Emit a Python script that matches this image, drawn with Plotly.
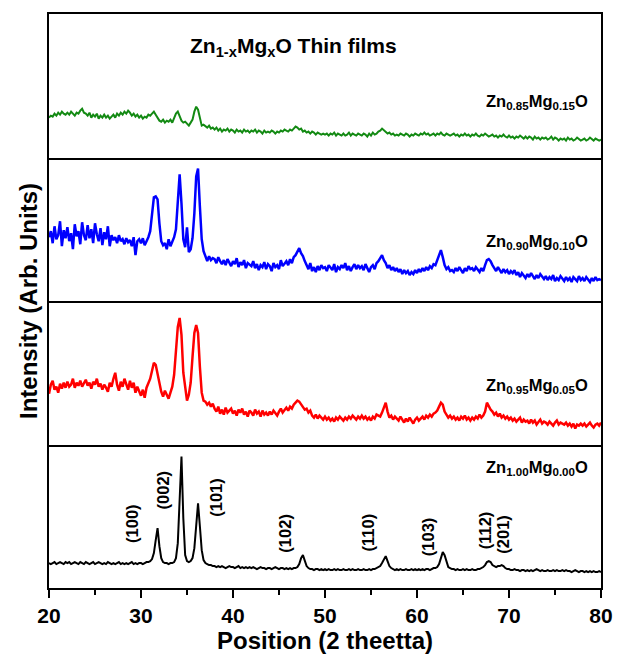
import numpy as np
import plotly.graph_objects as go
from plotly.subplots import make_subplots

# 2-theta grid (degrees), 0.2 step from 20 to 80
two_theta = [round(20 + 0.2 * i, 1) for i in range(301)]

# Intensities (arbitrary units), rows of 2 degrees
zn100_mg000 = [
    25, 24, 25, 26, 24, 25, 26, 25, 24, 26,
    25, 26, 24, 25, 26, 25, 24, 26, 25, 24,
    26, 25, 24, 25, 26, 24, 25, 26, 25, 24,
    25, 24, 26, 25, 24, 25, 24, 25, 26, 24,
    25, 24, 25, 24, 25, 26, 24, 25, 24, 25,
    25, 24, 25, 26, 26, 27, 29, 35, 48, 60,
    42, 30, 26, 25, 25, 24, 25, 25, 26, 30,
    45, 95, 132, 70, 33, 27, 26, 27, 30, 40,
    65, 85, 62, 38, 28, 25, 24, 23, 23, 22,
    22, 21, 22, 21, 22, 21, 20, 21, 22, 21,
    21, 20, 21, 22, 20, 21, 20, 21, 20, 21,
    20, 21, 20, 19, 20, 21, 20, 20, 19, 20,
    20, 19, 20, 21, 20, 19, 20, 20, 19, 20,
    19, 20, 19, 20, 20, 21, 24, 30, 33, 27,
    22, 20, 19, 19, 18, 19, 19, 18, 19, 18,
    19, 18, 19, 18, 18, 19, 18, 19, 18, 18,
    19, 18, 18, 19, 18, 19, 18, 18, 19, 18,
    18, 19, 18, 18, 19, 18, 19, 19, 20, 21,
    22, 25, 29, 32, 27, 22, 20, 19, 18, 19,
    18, 19, 18, 18, 19, 18, 18, 19, 18, 19,
    18, 19, 18, 19, 18, 19, 19, 18, 19, 20,
    20, 21, 24, 30, 36, 33, 26, 21, 20, 19,
    19, 18, 19, 18, 18, 19, 18, 19, 18, 18,
    19, 18, 18, 19, 19, 20, 21, 23, 26, 27,
    26, 23, 22, 21, 22, 22, 23, 22, 20, 19,
    19, 18, 18, 19, 18, 18, 17, 18, 18, 17,
    18, 17, 18, 17, 18, 19, 18, 17, 18, 17,
    17, 18, 17, 17, 18, 17, 18, 17, 17, 18,
    17, 18, 17, 17, 16, 17, 18, 17, 16, 17,
    17, 16, 17, 16, 17, 16, 17, 16, 16, 17,
    16,
]

zn095_mg005 = [
    51, 60, 64, 55, 58, 52, 61, 56, 62, 57,
    63, 58, 60, 66, 57, 62, 59, 64, 58, 61,
    65, 59, 62, 56, 63, 60, 66, 58, 61, 55,
    60, 57, 53, 62, 58, 66, 72, 60, 54, 63,
    58, 66, 61, 55, 64, 57, 62, 52, 58, 54,
    49, 55, 47, 57, 62, 66, 74, 82, 80, 70,
    62, 53, 48, 54, 50, 46, 52, 58, 70, 92,
    118, 127, 110, 72, 56, 44, 50, 62, 88, 112,
    120, 112, 78, 52, 44, 43, 40, 42, 38, 41,
    36, 33, 38, 31, 35, 30, 37, 32, 34, 36,
    31, 34, 29, 35, 32, 36, 30, 33, 28, 34,
    32, 29, 35, 31, 33, 28, 34, 30, 32, 29,
    33, 30, 34, 31, 29, 33, 36, 32, 35, 37,
    34, 38, 36, 40, 42, 44, 43, 40, 38, 35,
    36, 32, 34, 29, 27, 30, 26, 29, 27, 25,
    28, 25, 27, 24, 26, 23, 27, 25, 28, 26,
    24, 27, 25, 28, 26, 29, 27, 25, 28, 26,
    29, 26, 28, 25, 27, 24, 28, 26, 30, 29,
    28, 32, 38, 42, 33, 27, 29, 25, 28, 26,
    24, 28, 25, 22, 26, 23, 27, 24, 21, 25,
    27, 24, 26, 28, 25, 29, 27, 30, 28, 31,
    32, 34, 38, 42, 40, 33, 30, 27, 29, 26,
    28, 25, 27, 24, 28, 26, 29, 25, 27, 24,
    27, 25, 28, 26, 30, 27, 29, 33, 42, 38,
    35, 33, 30, 32, 28, 31, 27, 29, 26, 28,
    25, 27, 24, 26, 23, 25, 27, 22, 25, 23,
    24, 21, 25, 22, 24, 20, 23, 25, 21, 23,
    22, 20, 23, 21, 19, 22, 24, 20, 22, 21,
    20, 22, 19, 21, 18, 21, 16, 20, 19, 21,
    19, 21, 18, 20, 22, 19, 17, 20, 21, 19,
    22,
]

zn090_mg010 = [
    64, 70, 58, 75, 62, 66, 80, 55, 71, 63,
    74, 60, 68, 52, 77, 65, 70, 57, 79, 66,
    61, 76, 63, 72, 58, 78, 67, 60, 73, 56,
    69, 62, 75, 55, 66, 61, 64, 58, 66, 60,
    62, 57, 63, 59, 61, 55, 64, 46, 60, 62,
    58, 63, 56, 60, 64, 70, 88, 104, 105, 102,
    78, 60, 56, 58, 52, 62, 55, 60, 64, 72,
    95, 127, 98, 62, 54, 74, 49, 52, 63, 88,
    125, 133, 95, 62, 50, 44, 40, 45, 41, 43,
    42, 38, 44, 40, 37, 41, 36, 42, 39, 35,
    40, 37, 43, 34, 39, 36, 41, 33, 38, 36,
    35, 40, 33, 37, 31, 36, 34, 39, 32, 37,
    35, 30, 38, 34, 36, 32, 41, 35, 38, 40,
    36, 42, 38, 44, 46, 50, 53, 48, 45, 40,
    36, 32, 38, 30, 34, 29, 35, 31, 36, 33,
    34, 30, 36, 33, 31, 37, 29, 34, 32, 36,
    33, 38, 31, 35, 30, 34, 37, 32, 36, 33,
    35, 31, 37, 33, 29, 34, 36, 32, 38, 40,
    43, 46, 41, 38, 33, 36, 31, 34, 30, 33,
    29, 32, 27, 31, 28, 30, 26, 29, 27, 31,
    28, 32, 29, 33, 30, 34, 31, 35, 33, 37,
    36, 41, 47, 51, 44, 36, 32, 34, 30, 31,
    29, 33, 30, 34, 31, 28, 33, 30, 35, 32,
    33, 30, 34, 31, 29, 33, 30, 36, 41, 42,
    40, 36, 33, 30, 34, 31, 28, 32, 29, 31,
    27, 30, 28, 31, 26, 29, 24, 28, 26, 23,
    27, 24, 28, 25, 22, 26, 23, 27, 24, 22,
    25, 21, 24, 22, 26, 20, 23, 21, 25, 22,
    20, 24, 21, 23, 19, 24, 22, 20, 25, 21,
    23, 20, 24, 21, 19, 23, 20, 24, 21, 22,
    21,
]

zn085_mg015 = [
    40, 42, 41, 44, 42, 45, 43, 46, 44, 43,
    45, 43, 46, 44, 42, 45, 44, 47, 49, 45,
    44, 42, 45, 40, 43, 41, 44, 39, 42, 40,
    43, 40, 42, 39, 41, 43, 40, 44, 42, 45,
    43, 46, 44, 47, 45, 42, 44, 41, 43, 40,
    42, 39, 41, 40, 43, 42, 44, 46, 43, 40,
    37, 36, 38, 35, 37, 36, 38, 35, 39, 44,
    46, 42, 37, 35, 36, 34, 32, 35, 38, 46,
    51, 48, 38, 32, 33, 31, 30, 32, 29, 30,
    28, 30, 27, 29, 26, 28, 27, 29, 26, 28,
    27, 25, 28, 26, 27, 25, 28, 26, 27, 25,
    27, 26, 28, 25, 27, 26, 24, 27, 25, 26,
    25, 27, 26, 24, 26, 25, 27, 26, 28, 27,
    26, 28, 27, 29, 31, 30, 28, 29, 26, 27,
    25, 26, 24, 26, 25, 23, 25, 24, 23, 24,
    23, 24, 22, 24, 23, 25, 22, 24, 23, 22,
    24, 22, 23, 25, 22, 24, 23, 22, 24, 23,
    22, 24, 23, 21, 24, 22, 25, 23, 24, 26,
    27, 29, 27, 25, 24, 25, 23, 24, 22, 23,
    22, 24, 23, 22, 24, 23, 21, 23, 22, 24,
    23, 22, 24, 23, 25, 23, 24, 22, 23, 24,
    22, 24, 23, 25, 23, 22, 24, 23, 22, 23,
    24, 22, 23, 21, 23, 22, 24, 22, 23, 21,
    23, 22, 24, 22, 21, 23, 22, 24, 22, 21,
    22, 23, 21, 22, 20, 22, 21, 23, 21, 20,
    22, 20, 21, 19, 21, 20, 22, 20, 19, 21,
    19, 21, 20, 18, 21, 19, 20, 18, 20, 19,
    20, 18, 19, 21, 18, 20, 19, 17, 19, 18,
    19, 17, 20, 18, 19, 17, 18, 20, 18, 17,
    18, 19, 17, 18, 20, 18, 17, 19, 18, 17,
    18,
]

# Panels top to bottom
series = [
    ("Zn<sub>0.85</sub>Mg<sub>0.15</sub>O", zn085_mg015, "#138a13", 2.0, 56),
    ("Zn<sub>0.90</sub>Mg<sub>0.10</sub>O", zn090_mg010, "#0000ff", 2.5, 59),
    ("Zn<sub>0.95</sub>Mg<sub>0.05</sub>O", zn095_mg005, "#ff0000", 2.5, 59),
    ("Zn<sub>1.00</sub>Mg<sub>0.00</sub>O", zn100_mg000, "#000000", 2.0, 120),
]

# Miller index labels for the ZnO panel
hkl_labels = ["(100)", "(002)", "(101)", "(102)", "(110)", "(103)", "(112)", "(201)"]
hkl_x = [29.1, 32.4, 38.2, 45.7, 54.7, 61.2, 67.4, 69.4]
hkl_y = [65, 98, 91, 55, 56, 51, 58, 54]

x_ticks = [20, 30, 40, 50, 60, 70, 80]

FONT = "Liberation Sans"

fig = make_subplots(rows=4, cols=1, shared_xaxes=True, vertical_spacing=0)

annotations = []
for i, (name, ys, color, lw, label_y) in enumerate(series):
    row = i + 1
    fig.add_trace(
        go.Scatter(x=two_theta, y=ys, mode="lines",
                   line=dict(color=color, width=lw), showlegend=False, name=name),
        row=row, col=1,
    )
    yref = "y" if row == 1 else f"y{row}"
    annotations.append(dict(
        x=0.98, xref="paper", y=label_y, yref=yref, text=f"<b>{name}</b>",
        showarrow=False, xanchor="right", yanchor="middle",
        font=dict(family=FONT, size=16.5, color="black"),
    ))

annotations.append(dict(
    x=46.6, xref="x", y=111, yref="y",
    text="<b>Zn<sub>1-x</sub>Mg<sub>x</sub>O Thin films</b>",
    showarrow=False, xanchor="center", yanchor="middle",
    font=dict(family=FONT, size=21, color="black"),
))

for t, hx, hy in zip(hkl_labels, hkl_x, hkl_y):
    annotations.append(dict(
        x=hx, xref="x4", y=hy, yref="y4", text=f"<b>{t}</b>",
        textangle=-90, showarrow=False, xanchor="center", yanchor="middle",
        font=dict(family=FONT, size=16.5, color="black"),
    ))

LW = 2
for row in range(1, 5):
    fig.update_yaxes(range=[0, 144], showticklabels=False, ticks="",
                     showline=True, linecolor="black", linewidth=LW, mirror=True,
                     showgrid=False, zeroline=False, row=row, col=1)
    if row < 4:
        fig.update_xaxes(range=[20, 80], showticklabels=False, ticks="",
                         showline=True, linecolor="black", linewidth=LW,
                         mirror=(row == 1), showgrid=False, zeroline=False,
                         row=row, col=1)

fig.update_xaxes(
    range=[20, 80], tickvals=x_ticks, ticks="outside", ticklen=8, tickwidth=1.5,
    tickcolor="black",
    minor=dict(dtick=5, tick0=20, ticks="outside", ticklen=5, tickwidth=1.5, tickcolor="black"),
    tickfont=dict(family=FONT, size=21, color="black", weight="bold"),
    title=dict(text="<b>Position (2 theetta)</b>", standoff=4,
               font=dict(family=FONT, size=24, color="black")),
    showline=True, linecolor="black", linewidth=LW, mirror=False,
    showgrid=False, zeroline=False,
    row=4, col=1,
)

# The page adds an 8 px body margin, so the figure is drawn 8 px smaller
fig.update_layout(
    width=616, height=652,
    margin=dict(l=41, r=23, t=4, b=72),
    paper_bgcolor="white", plot_bgcolor="white",
    annotations=annotations,
)

fig.add_annotation(
    x=-0.01, xref="paper", y=0.5, yref="paper", text="<b>Intensity (Arb. Units)</b>",
    textangle=-90, showarrow=False, xanchor="right", yanchor="middle",
    font=dict(family=FONT, size=24, color="black"),
)

fig.write_html("out.html")
